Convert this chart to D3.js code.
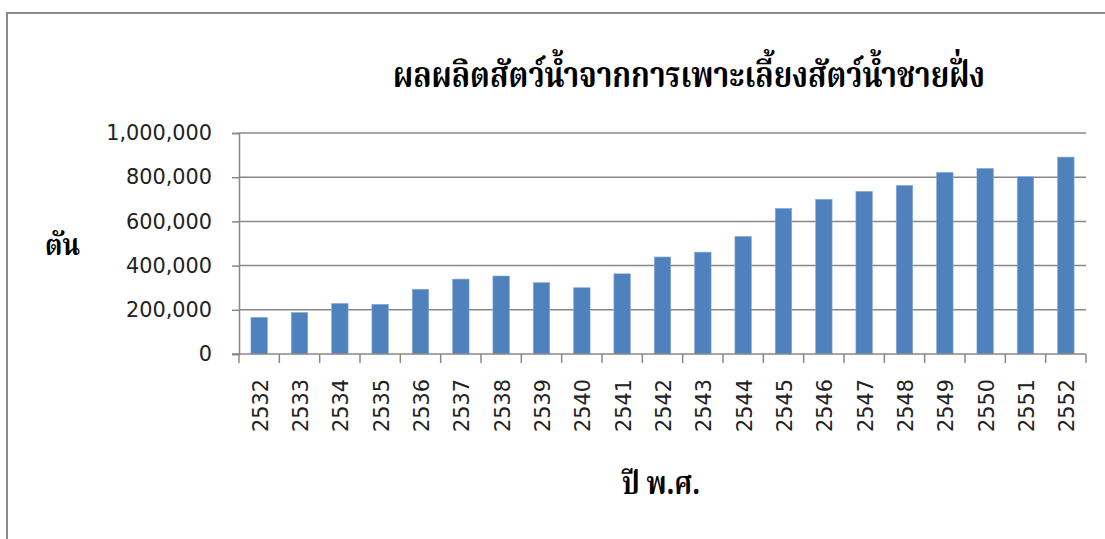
<!DOCTYPE html>
<html>
<head>
<meta charset="utf-8">
<script src="https://cdn.jsdelivr.net/npm/d3@7"></script>
<style>
  html, body { margin: 0; padding: 0; background: #fff; }
  svg { display: block; }
  .thai { font-family: "Noto Serif Thai", "Noto Sans Thai", "Loma", "Garuda", "Norasi", "Noto Sans", "DejaVu Serif", serif; font-weight: bold; fill: #000; }
  .num { font-family: "DejaVu Sans", sans-serif; font-size: 20.8px; fill: #222; }
</style>
</head>
<body>
<svg id="chart" width="1105" height="539"></svg>
<script>
// Aquaculture output (tonnes) by Buddhist-era year
const years = ["2532","2533","2534","2535","2536","2537","2538","2539","2540","2541","2542",
               "2543","2544","2545","2546","2547","2548","2549","2550","2551","2552"];
const tonnes = [166000, 188000, 229000, 225000, 293000, 339000, 353000, 323000, 300000, 363000, 439000,
                461000, 532000, 659000, 700000, 736000, 763000, 822000, 840000, 802000, 891000];
const yTicks = [0, 200000, 400000, 600000, 800000, 1000000];

const titleText = "ผลผลิตสัตว์น้ำจากการเพาะเลี้ยงสัตว์น้ำชายฝั่ง";
const yTitle = "ตัน";
const xTitle = "ปี พ.ศ.";

const svg = d3.select("#chart");
const W = 1105, H = 539;
const plot = { left: 239, right: 1086, top: 133, bottom: 354 };
const gridColor = "#888888";

// outer chart frame
svg.append("rect")
  .attr("x", 7).attr("y", 13)
  .attr("width", W + 10).attr("height", H + 10)
  .attr("fill", "#fff").attr("stroke", "#8a8a8a").attr("stroke-width", 2);

const x = d3.scaleBand()
  .domain(years)
  .range([plot.left, plot.right])
  .paddingInner(0.59)
  .paddingOuter(0.295);

const y = d3.scaleLinear()
  .domain([0, 1000000])
  .range([plot.bottom, plot.top]);

// horizontal gridlines
svg.append("g")
  .selectAll("line")
  .data(yTicks.slice(1))
  .join("line")
  .attr("x1", plot.left).attr("x2", plot.right)
  .attr("y1", d => y(d)).attr("y2", d => y(d))
  .attr("stroke", gridColor).attr("stroke-width", 1.5);

// bars
svg.append("g")
  .selectAll("rect")
  .data(years.map((yr, i) => ({ yr, v: tonnes[i] })))
  .join("rect")
  .attr("x", d => x(d.yr))
  .attr("width", x.bandwidth())
  .attr("y", d => y(d.v))
  .attr("height", d => y(0) - y(d.v))
  .attr("fill", "#4f81bd")
  .attr("stroke", "#8fb0da")
  .attr("stroke-width", 0.6);

// y axis
const yAxis = svg.append("g")
  .attr("transform", `translate(${plot.left},0)`)
  .call(d3.axisLeft(y).tickValues(yTicks).tickSize(7).tickPadding(20)
    .tickFormat(d3.format(",")));
yAxis.select(".domain").attr("stroke", gridColor).attr("stroke-width", 1.5);
yAxis.selectAll(".tick line").attr("stroke", gridColor).attr("stroke-width", 1.5);
yAxis.selectAll("text").attr("class", "num").attr("fill", null);

// x axis line and category boundary ticks
const step = x.step();
const boundaries = d3.range(years.length + 1).map(i => plot.left + i * step);
const xAxisG = svg.append("g");
xAxisG.append("line")
  .attr("x1", plot.left - 7).attr("x2", plot.right)
  .attr("y1", y(0)).attr("y2", y(0))
  .attr("stroke", gridColor).attr("stroke-width", 1.5);
xAxisG.selectAll("line.tk")
  .data(boundaries)
  .join("line")
  .attr("class", "tk")
  .attr("x1", d => d).attr("x2", d => d)
  .attr("y1", y(0)).attr("y2", y(0) + 9)
  .attr("stroke", gridColor).attr("stroke-width", 1.5);

// rotated year labels
xAxisG.selectAll("text")
  .data(years)
  .join("text")
  .attr("class", "num")
  .attr("text-anchor", "end")
  .attr("dy", "0.36em")
  .attr("transform", d => `translate(${x(d) + x.bandwidth() / 2 + 1},379) rotate(-90)`)
  .text(d => d);

// titles
svg.append("text")
  .attr("class", "thai")
  .attr("x", 393).attr("y", 87)
  .attr("font-size", 36)
  .attr("textLength", 592)
  .attr("lengthAdjust", "spacingAndGlyphs")
  .text(titleText);

svg.append("text")
  .attr("class", "thai")
  .attr("x", 45).attr("y", 255)
  .attr("font-size", 30)
  .attr("textLength", 35)
  .attr("lengthAdjust", "spacingAndGlyphs")
  .text(yTitle);

svg.append("text")
  .attr("class", "thai")
  .attr("x", 622).attr("y", 494)
  .attr("font-size", 32)
  .attr("textLength", 78)
  .attr("lengthAdjust", "spacingAndGlyphs")
  .text(xTitle);
</script>
</body>
</html>
